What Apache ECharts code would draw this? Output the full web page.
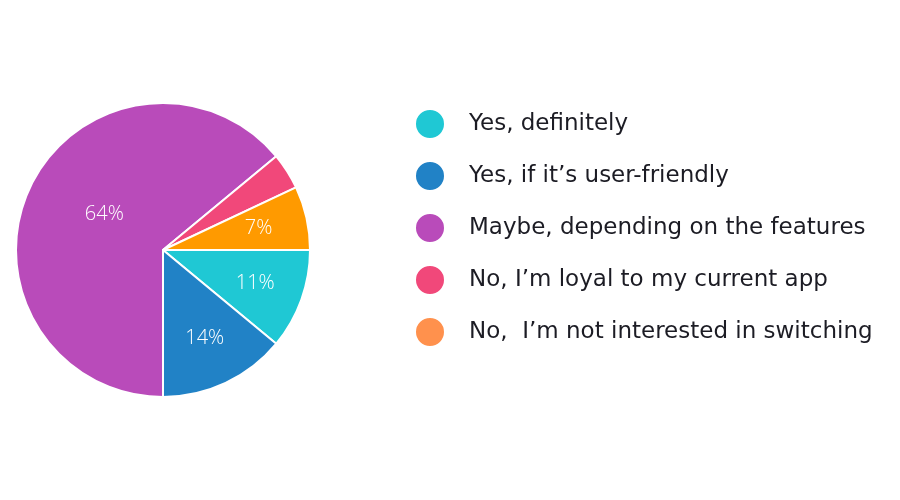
<!DOCTYPE html>
<html><head><meta charset="utf-8">
<script src="https://cdn.jsdelivr.net/npm/echarts@6/dist/echarts.min.js"></script>
<style>html,body{margin:0;padding:0;background:#fff}#c{width:900px;height:500px}</style>
</head><body><div id="c"></div>
<script>
const categories = ["Yes, definitely", "Yes, if it\u2019s user-friendly", "Maybe, depending on the features", "No, I\u2019m loyal to my current app", "No,  I\u2019m not interested in switching"];
const values = [11, 14, 64, 4, 7];
const labels = ["11%", "14%", "64%", "", "7%"];
const sliceColors = ["#1fc8d4", "#2182c6", "#b94bba", "#f1487a", "#ff9a00"];
const legendColors = ["#1fc8d4", "#2182c6", "#b94bba", "#f1487a", "#ff914d"];

const chart = echarts.init(document.getElementById('c'));
const font = '"DejaVu Sans", sans-serif';
chart.setOption({
  animation: false,
  legend: {
    orient: 'vertical', left: 409, top: 103,
    icon: 'circle', itemWidth: 30, itemHeight: 30, itemGap: 20,
    textStyle: { fontFamily: font, fontSize: 23, lineHeight: 30, color: '#1c1c24', padding: [0, 0, 0, 19] },
    data: categories.map((c, i) => ({ name: c, itemStyle: { color: legendColors[i] } }))
  },
  series: [{
    type: 'pie', center: [163, 250], radius: 147, startAngle: 0, clockwise: true,
    label: { show: false }, labelLine: { show: false },
    itemStyle: { borderColor: '#fff', borderWidth: 2 },
    data: categories.map((c, i) => ({ name: c, value: values[i], itemStyle: { color: sliceColors[i] } }))
  }, {
    type: 'pie', center: [163, 250], radius: 190, startAngle: 0, clockwise: true,
    silent: true, legendHoverLink: false,
    itemStyle: { color: 'rgba(0,0,0,0)', borderWidth: 0 },
    labelLine: { show: false },
    label: { show: true, position: 'inside', color: '#fff', fontFamily: '"Open Sans", sans-serif', fontSize: 20, fontWeight: 300,
      formatter: p => labels[p.dataIndex] },
    data: categories.map((c, i) => ({ name: c + ' ', value: values[i],
      label: i === 2 ? { offset: [30, 6] } : undefined }))
  }]
});
</script></body></html>
